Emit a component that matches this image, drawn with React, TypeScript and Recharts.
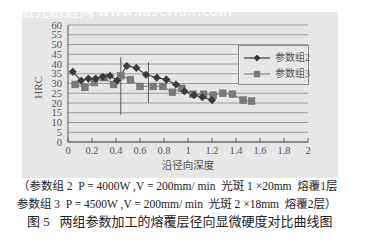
import React from 'react';
import { LineChart, Line, XAxis, YAxis, CartesianGrid, ReferenceLine, Legend } from 'recharts';

// Radial depth (mm) and hardness (HRC) for the two parameter groups
const depth2 = [0.04, 0.11, 0.17, 0.23, 0.29, 0.35, 0.41, 0.49, 0.57, 0.65, 0.74, 0.82, 0.9, 0.97, 1.05, 1.12, 1.2];
const hrc2 = [36, 31.5, 32.5, 32.5, 33.5, 34, 31.5, 39, 38, 34.5, 33, 32, 29.5, 26, 24, 23, 21.5];

const depth3 = [0.06, 0.14, 0.22, 0.3, 0.38, 0.44, 0.52, 0.6, 0.71, 0.79, 0.87, 0.95, 1.04, 1.13, 1.21, 1.29, 1.37, 1.46, 1.53];
const hrc3 = [29.5, 28, 30.5, 33, 29.5, 34, 32, 28.5, 28.5, 28.5, 25.5, 27.5, 24.5, 24.5, 24, 25, 24.5, 21.5, 21];

const seriesNames = ['参数组2', '参数组3'];
const xTicks = [0, 0.2, 0.4, 0.6, 0.8, 1, 1.2, 1.4, 1.6, 1.8, 2];
const yTicks = [0, 5, 10, 15, 20, 25, 30, 35, 40, 45, 50, 55, 60];

// Vertical marker segments drawn on the plot (x, lower HRC, upper HRC)
const markerX = [0.44, 0.67];
const markerLow = [14, 20];
const markerHigh = [43.5, 41];

const xLabel = '沿径向深度';
const yLabel = 'HRC';
const captionLines = [
  '（参数组 2  P = 4000W ,V = 200mm/ min  光斑 1 ×20mm  熔覆1层',
  '参数组 3  P = 4500W ,V = 200mm/ min  光斑 2 ×18mm  熔覆2层）',
  '图 5   两组参数加工的熔覆层径向显微硬度对比曲线图',
];
const watermark = '激光制造网  www.laserfair.com';

const group2 = depth2.map((x, i) => ({ x, y: hrc2[i] }));
const group3 = depth3.map((x, i) => ({ x, y: hrc3[i] }));

const COLOR2 = '#3a3a3a';
const LINE2 = '#454545';
const COLOR3 = '#7a7a7a';
const LINE3 = '#8e8e8e';
const BG = '#e7e7e7';
const FONT = '"Liberation Serif", "Times New Roman", "Noto Sans CJK SC", serif';
const CJK = '"Liberation Serif", "Times New Roman", "Noto Sans CJK SC", sans-serif';

const Diamond = (props: any) => {
  const { cx, cy } = props;
  if (cx == null || cy == null) return null;
  const r = 3.8;
  return <path d={`M${cx},${cy - r}L${cx + r},${cy}L${cx},${cy + r}L${cx - r},${cy}Z`} fill={COLOR2} stroke={COLOR2} strokeWidth={0.5} />;
};

const Square = (props: any) => {
  const { cx, cy } = props;
  if (cx == null || cy == null) return null;
  const r = 3.4;
  return <rect x={cx - r} y={cy - r} width={2 * r} height={2 * r} fill={COLOR3} stroke="#6e6e6e" strokeWidth={0.5} />;
};

// Bottom-axis tick: short mark pointing into the plot plus the value label
const XTick = (props: any) => {
  const { x, y, payload } = props;
  const axisY = y - 5;
  return (
    <g>
      <line x1={x} y1={axisY} x2={x} y2={axisY - 4} stroke="#555" strokeWidth={1} />
      <text x={x} y={y} dy="0.71em" textAnchor="middle" fontFamily={FONT} fontSize={10.5} fill="#555">
        {String(payload.value)}
      </text>
    </g>
  );
};

const LegendBox = () => (
  <div
    style={{
      width: 71,
      height: 40,
      border: '1px solid #8a8a8a',
      background: BG,
      boxSizing: 'border-box',
      position: 'relative',
    }}
  >
    {seriesNames.map((name, i) => {
      const top = i === 0 ? 12 : 28;
      const isDiamond = i === 0;
      return (
        <div key={name}>
          <svg width={26} height={10} style={{ position: 'absolute', left: 5, top: top - 5 }}>
            <line x1={0} y1={5} x2={26} y2={5} stroke={isDiamond ? LINE2 : LINE3} strokeWidth={1.3} />
            {isDiamond ? (
              <path d="M13,1.5L16.5,5L13,8.5L9.5,5Z" fill={COLOR2} />
            ) : (
              <rect x={9.8} y={1.8} width={6.4} height={6.4} fill={COLOR3} />
            )}
          </svg>
          <div
            style={{
              position: 'absolute',
              left: 36,
              top: top - 7,
              fontFamily: CJK,
              fontSize: 10,
              lineHeight: '14px',
              color: '#555',
              whiteSpace: 'nowrap',
            }}
          >
            {name}
          </div>
        </div>
      );
    })}
  </div>
);

const captionStyle = (left: number, top: number, size: number): React.CSSProperties => ({
  position: 'absolute',
  left,
  top,
  fontFamily: CJK,
  fontSize: size,
  lineHeight: '18px',
  color: '#222',
  whiteSpace: 'pre',
});

export default function App() {
  return (
    <div style={{ position: 'absolute', left: 0, top: 0, width: 388, height: 252, background: '#fff', overflow: 'hidden' }}>
      <div style={{ position: 'absolute', left: 22, top: 12, width: 316, height: 166, background: BG }} />
      <div
        style={{
          position: 'absolute',
          left: 20,
          top: 2,
          fontFamily: '"Noto Sans CJK SC", sans-serif',
          fontSize: 14,
          lineHeight: '16px',
          color: '#ffffff',
          whiteSpace: 'nowrap',
          letterSpacing: 0.8,
        }}
      >
        {watermark}
      </div>
      <div style={{ position: 'absolute', left: 22, top: 12 }}>
        <LineChart width={316} height={166} margin={{ top: 13, right: 30, bottom: 0, left: 0 }}>
          <CartesianGrid vertical={false} stroke="#9c9c9c" strokeWidth={1} />
          <XAxis
            type="number"
            dataKey="x"
            domain={[0, 2]}
            ticks={xTicks}
            height={36}
            tickSize={0}
            tickMargin={5}
            interval={0}
            axisLine={{ stroke: '#555', strokeWidth: 1 }}
            tickLine={false}
            tick={<XTick />}
            label={(p: any) => {
              const vb = p.viewBox;
              return (
                <text x={vb.x + vb.width / 2} y={vb.y + 27} textAnchor="middle" fontFamily={CJK} fontSize={10.5} fill="#555">
                  {xLabel}
                </text>
              );
            }}
          />
          <YAxis
            type="number"
            domain={[0, 60]}
            ticks={yTicks}
            width={46}
            tickSize={0}
            tickMargin={6}
            axisLine={{ stroke: '#555', strokeWidth: 1 }}
            tickLine={false}
            interval={0}
            tick={{ fontFamily: FONT, fontSize: 10.5, fill: '#555' }}
            label={(p: any) => {
              const vb = p.viewBox;
              const x = vb.x + 16;
              const y = vb.y + vb.height / 2 + 4;
              return (
                <text x={x} y={y} textAnchor="middle" dominantBaseline="central" transform={`rotate(-90 ${x} ${y})`} fontFamily={FONT} fontSize={11} fill="#555">
                  {yLabel}
                </text>
              );
            }}
          />
          {markerX.map((mx, i) => (
            <ReferenceLine
              key={mx}
              segment={[
                { x: mx, y: markerLow[i] },
                { x: mx, y: markerHigh[i] },
              ]}
              stroke="#555"
              strokeWidth={1}
            />
          ))}
          <Line
            data={group3}
            dataKey="y"
            name={seriesNames[1]}
            type="linear"
            stroke={LINE3}
            strokeWidth={1.3}
            dot={<Square />}
            activeDot={false}
            isAnimationActive={false}
          />
          <Line
            data={group2}
            dataKey="y"
            name={seriesNames[0]}
            type="linear"
            stroke={LINE2}
            strokeWidth={1.2}
            dot={<Diamond />}
            activeDot={false}
            isAnimationActive={false}
          />
          <Legend
            layout="horizontal"
            verticalAlign="middle"
            align="center"
            content={() => <LegendBox />}
            wrapperStyle={{ position: 'absolute', left: 216, top: 33, width: 71, height: 40 }}
          />
        </LineChart>
      </div>
      <div style={captionStyle(18, 177, 11.5)}>{captionLines[0]}</div>
      <div style={captionStyle(17, 195, 11.5)}>{captionLines[1]}</div>
      <div style={captionStyle(27, 213, 13)}>{captionLines[2]}</div>
    </div>
  );
}
